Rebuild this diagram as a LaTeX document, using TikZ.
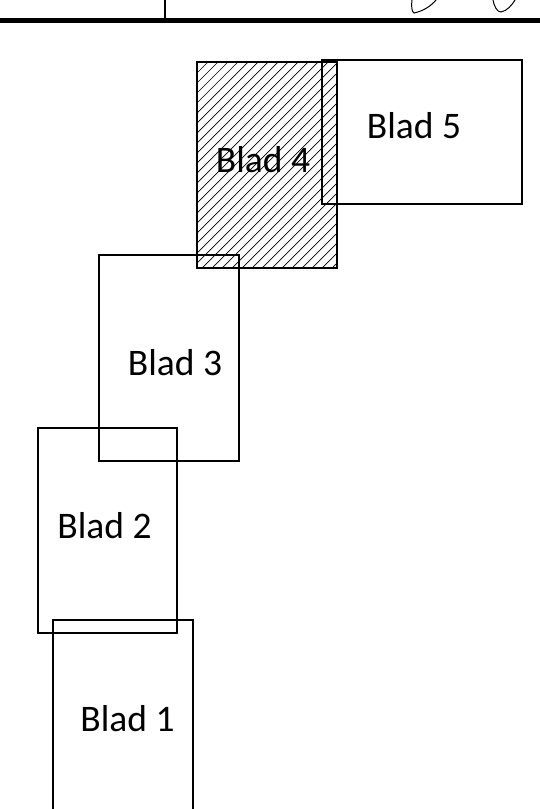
\documentclass[tikz,border=0pt]{standalone}
\usepackage{fontspec}
\setmainfont{Carlito}
\begin{document}
\begin{tikzpicture}[x=1pt,y=-1pt,
  blad/.style={draw=black,line width=1.4pt,fill=none,inner sep=0pt},
  lbl/.style={anchor=base,inner sep=0pt,font=\fontsize{37.5}{42}\selectfont},
  hatch/.style={line width=0.7pt}]
\useasboundingbox (0,0) rectangle (540,809);
% header
\draw[line width=5pt] (0,20.5) -- (540,20.5);
\draw[line width=1.2pt] (165,0) -- (165,18);
\draw[line width=1pt] (412,0) .. controls (411,7) and (412,12) .. (414,13) .. controls (424,11) and (432,5) .. (436,0);
\draw[line width=1pt] (493,0) .. controls (494,6) and (497,12) .. (501,12) .. controls (507,11) and (512,5) .. (515,0);
% Blad 4 hatching
\begin{scope}
  \clip (197,62) rectangle (337,268);
  \foreach \i in {0,...,40}
    \draw[hatch] (-18+\i*10,268) -- ++(230,-230);
\end{scope}
\node[blad,minimum width=140pt,minimum height=206pt] (box4) at (267,165) {};
\node[blad,minimum width=200pt,minimum height=144pt] (box5) at (422,132) {};
\node[blad,minimum width=140pt,minimum height=206pt] (box3) at (169,358) {};
\node[blad,minimum width=139pt,minimum height=205pt] (box2) at (107.5,530.5) {};
\coordinate (b1a) at (53,815);
\coordinate (b1b) at (193,815);
\node[minimum width=140pt,minimum height=195pt,inner sep=0pt] (box1) at (123,717.5) {};
\draw[blad] (b1a) |- (box1.north) -| (b1b);
% labels
\node[lbl] (t5) at (414,138) {Blad 5};
\node[lbl] (t4) at (263,172) {Blad 4};
\node[lbl] (t3) at (175,375) {Blad 3};
\node[lbl] (t2) at (104.5,538) {Blad 2};
\node[lbl] (t1) at (127.5,731) {Blad 1};
\end{tikzpicture}
\end{document}
